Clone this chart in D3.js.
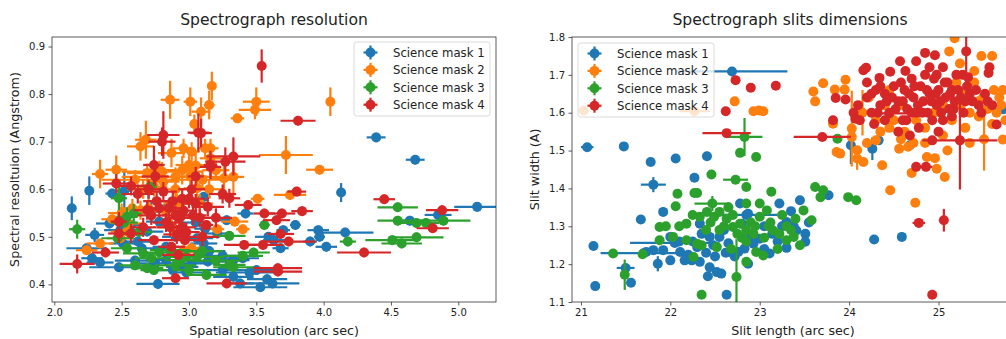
<!DOCTYPE html>
<html>
<head>
<meta charset="utf-8">
<script src="https://cdn.jsdelivr.net/npm/d3@7"></script>
<style>
  body { margin: 0; background: #fff; }
  svg text { font-family: "DejaVu Sans", sans-serif; fill: #222; }
</style>
</head>
<body>
<div id="chart"></div>
<script>
// Series names and colours
const maskNames = ['Science mask 1', 'Science mask 2', 'Science mask 3', 'Science mask 4'];
const maskColors = ['#1f77b4', '#ff7f0e', '#2ca02c', '#d62728'];

// Left panel: [spatial res, spectral res, x error, y error]
const mask1Res = [
  [2.13,0.560,0.02,0.025],[2.26,0.597,0.03,0.03],[2.30,0.504,0.07,0.015],[2.24,0.476,0.15,0.01],
  [2.28,0.455,0.08,0.01],[2.34,0.446,0.10,0.01],[2.43,0.591,0.05,0.01],[2.52,0.597,0.06,0.04],
  [2.48,0.436,0.22,0.01],[2.41,0.528,0.10,0.01],[2.49,0.514,0.12,0.01],[2.51,0.486,0.10,0.01],
  [2.57,0.525,0.10,0.01],[2.65,0.476,0.15,0.01],[2.69,0.511,0.12,0.01],[2.72,0.553,0.08,0.02],
  [2.77,0.401,0.16,0.01],[2.75,0.444,0.12,0.01],[2.78,0.532,0.10,0.01],[2.83,0.479,0.10,0.01],
  [2.83,0.451,0.15,0.01],[2.87,0.567,0.06,0.01],[2.88,0.430,0.15,0.01],[2.90,0.500,0.10,0.01],
  [2.95,0.437,0.12,0.01],[3.02,0.444,0.15,0.01],[3.06,0.497,0.12,0.01],[3.08,0.469,0.10,0.01],
  [3.11,0.584,0.05,0.01],[3.11,0.486,0.10,0.01],[3.12,0.517,0.08,0.01],[3.14,0.448,0.15,0.01],
  [3.21,0.507,0.10,0.01],[3.28,0.535,0.08,0.01],[3.33,0.451,0.12,0.01],[3.33,0.416,0.15,0.01],
  [3.38,0.402,0.10,0.01],[3.40,0.455,0.12,0.01],[3.42,0.549,0.06,0.01],[3.50,0.430,0.15,0.01],
  [3.53,0.394,0.20,0.01],[3.58,0.411,0.15,0.01],[3.59,0.500,0.10,0.01],[3.63,0.493,0.08,0.01],
  [3.68,0.476,0.06,0.01],[3.70,0.514,0.05,0.01],[3.79,0.525,0.04,0.01],[3.90,0.490,0.05,0.01],
  [3.96,0.514,0.08,0.01],[3.97,0.500,0.04,0.01],[4.02,0.479,0.08,0.01],[4.16,0.509,0.21,0.01],
  [4.13,0.593,0.02,0.02],[4.39,0.709,0.07,0.01],[4.68,0.662,0.07,0.01],[4.64,0.534,0.10,0.01],
  [4.85,0.546,0.10,0.01],[5.14,0.563,0.17,0.01],[2.98,0.425,0.12,0.01],[3.25,0.430,0.15,0.01],
  [3.45,0.425,0.25,0.01],[3.62,0.402,0.20,0.01],[2.60,0.450,0.15,0.01],[3.05,0.530,0.10,0.01],
  [3.15,0.470,0.12,0.01],[2.70,0.600,0.08,0.02],[2.62,0.490,0.12,0.01],[3.25,0.460,0.15,0.01]
];
const mask2Res = [
  [2.24,0.472,0.08,0.01],[2.34,0.486,0.10,0.01],[2.34,0.632,0.06,0.03],[2.46,0.641,0.08,0.03],
  [2.43,0.537,0.08,0.01],[2.49,0.497,0.10,0.01],[2.54,0.511,0.12,0.01],[2.55,0.528,0.10,0.01],
  [2.64,0.556,0.12,0.02],[2.64,0.690,0.10,0.03],[2.68,0.704,0.08,0.04],[2.69,0.634,0.15,0.02],
  [2.74,0.605,0.10,0.02],[2.81,0.616,0.12,0.02],[2.83,0.553,0.10,0.02],[2.86,0.788,0.07,0.04],
  [2.87,0.676,0.10,0.03],[2.91,0.570,0.10,0.02],[2.96,0.686,0.08,0.02],[2.96,0.472,0.10,0.01],
  [3.00,0.651,0.10,0.03],[3.01,0.784,0.05,0.03],[3.01,0.627,0.12,0.02],[3.02,0.679,0.06,0.02],
  [3.02,0.476,0.08,0.01],[3.04,0.737,0.03,0.02],[3.06,0.602,0.10,0.02],[3.08,0.570,0.10,0.02],
  [3.09,0.763,0.07,0.03],[3.12,0.686,0.06,0.02],[3.15,0.777,0.04,0.03],[3.16,0.686,0.06,0.02],
  [3.16,0.665,0.08,0.02],[3.17,0.817,0.03,0.03],[3.21,0.516,0.05,0.01],[3.26,0.623,0.10,0.03],
  [3.33,0.626,0.08,0.04],[3.34,0.532,0.10,0.01],[3.36,0.749,0.05,0.01],[3.40,0.516,0.05,0.01],
  [3.49,0.767,0.12,0.02],[3.50,0.784,0.10,0.03],[3.51,0.580,0.05,0.01],[3.72,0.672,0.20,0.04],
  [3.75,0.588,0.12,0.01],[3.97,0.641,0.10,0.01],[4.05,0.784,0.02,0.03],[2.70,0.560,0.15,0.02],
  [2.60,0.620,0.25,0.02],[2.90,0.600,0.20,0.02],[3.10,0.620,0.25,0.02],[2.95,0.640,0.10,0.03],
  [3.05,0.650,0.12,0.03],[2.78,0.640,0.12,0.02],[2.80,0.637,0.30,0.02],[2.90,0.626,0.40,0.02],
  [2.58,0.560,0.10,0.02],[2.66,0.600,0.12,0.02],[3.15,0.600,0.10,0.02],[3.20,0.640,0.10,0.02],
  [2.50,0.550,0.10,0.02],[2.87,0.520,0.10,0.02]
];
const mask3Res = [
  [2.17,0.516,0.06,0.02],[2.48,0.581,0.06,0.025],[2.54,0.542,0.08,0.02],[2.59,0.549,0.06,0.02],
  [2.71,0.605,0.05,0.01],[2.54,0.476,0.12,0.01],[2.47,0.497,0.12,0.01],[2.69,0.434,0.12,0.01],
  [2.74,0.430,0.10,0.01],[2.78,0.467,0.15,0.01],[2.86,0.472,0.15,0.01],[2.94,0.451,0.12,0.01],
  [2.98,0.458,0.15,0.01],[3.06,0.458,0.20,0.01],[3.13,0.420,0.15,0.01],[3.30,0.502,0.12,0.01],
  [3.30,0.441,0.12,0.01],[3.33,0.436,0.15,0.01],[3.48,0.467,0.12,0.01],[3.56,0.525,0.04,0.01],
  [4.18,0.490,0.06,0.01],[4.55,0.562,0.15,0.01],[4.55,0.534,0.15,0.01],[4.51,0.493,0.20,0.01],
  [4.58,0.486,0.15,0.01],[4.69,0.499,0.20,0.01],[4.69,0.529,0.15,0.01],[4.76,0.529,0.10,0.01],
  [4.89,0.534,0.20,0.01],[2.90,0.440,0.15,0.01],[3.20,0.450,0.18,0.01],[3.00,0.430,0.12,0.01],
  [2.63,0.510,0.10,0.01],[2.72,0.455,0.12,0.01],[2.52,0.530,0.10,0.01],[2.60,0.440,0.12,0.01],
  [3.10,0.470,0.15,0.01],[3.40,0.460,0.15,0.01],[2.66,0.465,0.15,0.01]
];
const mask4Res = [
  [2.17,0.443,0.13,0.02],[2.38,0.467,0.10,0.01],[2.46,0.612,0.10,0.02],[2.48,0.532,0.06,0.02],
  [2.48,0.507,0.08,0.02],[2.57,0.507,0.10,0.02],[2.57,0.607,0.12,0.02],[2.69,0.556,0.10,0.02],
  [2.74,0.493,0.12,0.01],[2.74,0.651,0.08,0.04],[2.75,0.627,0.10,0.02],[2.80,0.700,0.10,0.03],
  [2.81,0.714,0.12,0.05],[2.81,0.595,0.10,0.02],[2.87,0.479,0.10,0.01],[2.90,0.413,0.10,0.01],
  [2.97,0.493,0.12,0.01],[3.05,0.627,0.06,0.02],[3.07,0.719,0.08,0.04],[3.09,0.718,0.08,0.03],
  [3.13,0.525,0.05,0.01],[3.14,0.563,0.12,0.02],[3.16,0.651,0.05,0.03],[3.27,0.658,0.15,0.03],
  [3.28,0.402,0.15,0.01],[3.30,0.581,0.08,0.02],[3.33,0.669,0.20,0.04],[3.41,0.483,0.15,0.01],
  [3.44,0.567,0.10,0.01],[3.54,0.859,0.02,0.035],[3.55,0.483,0.15,0.01],[3.56,0.549,0.08,0.01],
  [3.65,0.535,0.10,0.01],[3.66,0.434,0.18,0.01],[3.66,0.427,0.18,0.01],[3.68,0.506,0.10,0.01],
  [3.69,0.549,0.10,0.01],[3.74,0.490,0.20,0.01],[3.80,0.595,0.07,0.01],[3.81,0.744,0.13,0.01],
  [3.84,0.554,0.08,0.01],[4.30,0.467,0.20,0.01],[4.45,0.579,0.08,0.01],[4.81,0.518,0.12,0.01],
  [4.88,0.556,0.12,0.01],[2.72,0.545,0.10,0.02],[2.78,0.560,0.12,0.02],[2.83,0.530,0.10,0.02],
  [2.86,0.520,0.10,0.02],[2.91,0.505,0.10,0.02],[2.93,0.540,0.10,0.02],[2.96,0.555,0.10,0.02],
  [3.00,0.580,0.12,0.02],[2.98,0.510,0.10,0.02],[3.03,0.545,0.10,0.02],[2.88,0.575,0.10,0.02],
  [2.95,0.580,0.10,0.02],[2.76,0.575,0.10,0.02],[3.02,0.600,0.10,0.02],[3.08,0.540,0.12,0.02],
  [2.62,0.590,0.12,0.02],[2.66,0.520,0.10,0.02],[2.85,0.560,0.10,0.02],[2.90,0.545,0.10,0.02],
  [3.05,0.570,0.10,0.02],[3.10,0.500,0.12,0.02],[2.70,0.600,0.10,0.02],[2.95,0.520,0.10,0.02],
  [3.20,0.540,0.12,0.02],[3.25,0.590,0.10,0.02],[2.92,0.462,0.12,0.01],[3.16,0.647,0.08,0.02]
];

// Right panel: [slit length, slit width, x error, y error]
const mask1Slit = [
  [21.07,1.509,0.07,0],[21.48,1.511,0,0],[21.14,1.248,0,0],[21.16,1.142,0,0],[21.50,1.190,0.10,0.01],
  [21.56,1.151,0,0],[21.67,1.318,0,0],[21.78,1.470,0,0],[21.81,1.410,0.14,0.02],[21.86,1.201,0,0.02],
  [21.92,1.338,0,0],[22.06,1.479,0,0],[22.27,1.428,0,0],[22.41,1.485,0,0],[22.69,1.709,0.62,0],
  [22.63,1.119,0,0],[22.42,1.168,0,0],[23.77,1.382,0,0],[24.28,1.265,0,0],[24.59,1.272,0,0],
  [24.02,1.514,0,0.05],[24.26,1.505,0,0.03],[24.33,1.527,0,0],[24.68,1.514,0,0],[25.72,1.609,0.15,0],
  [21.70,1.229,0.48,0],[22.05,1.256,0.50,0],[22.85,1.330,0.35,0],
  [22.11,1.232,0,0],[22.16,1.210,0,0],[22.24,1.210,0,0],[22.33,1.206,0,0],[22.44,1.192,0,0],
  [22.52,1.179,0,0],[22.57,1.175,0,0],[22.70,1.229,0,0],[22.76,1.232,0,0],[22.83,1.241,0,0],
  [22.87,1.201,0,0],[22.93,1.254,0,0],[23.00,1.267,0,0],[23.11,1.228,0,0],[23.14,1.280,0,0],
  [23.22,1.360,0,0],[23.30,1.311,0,0],[23.41,1.289,0,0],[23.45,1.369,0,0],[23.51,1.280,0,0],
  [23.51,1.259,0,0],[23.30,1.243,0,0],[22.78,1.360,0,0],[22.87,1.333,0,0],[22.80,1.307,0,0],
  [22.33,1.307,0,0],[22.44,1.272,0,0],[22.55,1.272,0,0],[22.00,1.272,0,0],[21.92,1.237,0,0],
  [21.81,1.237,0,0],[21.73,1.232,0,0],[22.00,1.210,0,0],[22.20,1.225,0,0],[22.30,1.245,0,0],
  [22.65,1.255,0,0],[22.72,1.220,0,0],[22.90,1.270,0,0],[23.05,1.300,0,0],[23.38,1.300,0,0],
  [23.55,1.310,0,0],[22.60,1.290,0,0],[22.48,1.250,0,0],[23.20,1.260,0,0],[22.35,1.280,0,0],
  [22.50,1.220,0,0],[22.62,1.230,0,0],[22.40,1.230,0,0],[22.25,1.260,0,0],[23.05,1.240,0,0],
  [23.25,1.300,0,0],[23.35,1.340,0,0],[22.10,1.260,0,0]
];
const mask2Slit = [
  [21.03,1.606,0,0],[22.27,1.604,0.17,0],[22.72,1.630,0,0],[22.93,1.604,0,0],[22.99,1.606,0,0],
  [23.04,1.604,0,0],[23.60,1.656,0,0],[23.62,1.630,0,0],[23.71,1.678,0,0],[23.84,1.661,0,0],
  [23.95,1.661,0,0],[23.96,1.687,0,0],[23.82,1.571,0,0],[23.86,1.496,0,0],[23.90,1.492,0,0],
  [24.03,1.558,0,0.10],[24.03,1.536,0,0],[24.09,1.501,0,0],[24.09,1.479,0,0.03],[24.16,1.470,0,0],
  [24.30,1.527,0,0],[24.37,1.461,0,0],[24.46,1.395,0,0],[24.56,1.505,0,0],[24.70,1.441,0,0],
  [24.74,1.362,0,0],[24.87,1.483,0,0],[24.96,1.480,0,0],[24.98,1.452,0,0],[25.07,1.430,0,0],
  [25.18,1.797,0,0],[25.12,1.762,0,0],[25.48,1.750,0,0],[25.60,1.750,0,0],[25.72,1.529,0,0],
  [25.24,1.730,0,0],[25.51,1.530,0,0.083],[24.15,1.600,0,0.06],[24.40,1.620,0,0],[24.50,1.580,0,0],
  [24.62,1.550,0,0],[24.75,1.580,0,0],[24.85,1.560,0,0],[24.95,1.600,0,0],[25.05,1.540,0,0],
  [25.15,1.580,0,0],[25.25,1.620,0,0],[25.35,1.600,0,0],[25.45,1.630,0,0],[25.55,1.610,0,0],
  [25.62,1.660,0,0],[25.68,1.640,0,0],[25.40,1.680,0,0],[25.30,1.660,0,0],[24.22,1.640,0,0],
  [24.30,1.580,0,0],[24.58,1.530,0,0],[24.66,1.510,0,0],[25.10,1.500,0,0],[25.35,1.520,0,0],
  [25.60,1.570,0,0],[24.45,1.560,0,0],[25.20,1.680,0,0],[25.65,1.600,0,0],[25.70,1.620,0,0],
  [25.75,1.580,0,0],[25.72,1.660,0,0],[25.45,1.590,0,0],[25.50,1.640,0,0],[25.05,1.620,0,0],
  [24.60,1.620,0,0],[24.35,1.550,0,0],[24.20,1.520,0,0],[24.72,1.520,0,0],[24.85,1.520,0,0],
  [25.30,1.560,0,0],[25.40,1.710,0,0],[24.45,1.660,0,0]
];
const mask3Slit = [
  [21.36,1.228,0,0],[21.49,1.172,0,0.04],[21.69,1.226,0,0],[21.88,1.298,0,0],[22.08,1.386,0,0],
  [22.06,1.353,0,0],[22.27,1.388,0,0],[22.30,1.388,0,0],[22.46,1.437,0,0],[22.35,1.119,0,0],
  [22.74,1.166,0,0.10],[22.73,1.423,0.14,0],[22.83,1.536,0.20,0.05],[22.78,1.494,0,0],[22.85,1.404,0,0],
  [22.96,1.483,0,0],[22.85,1.360,0,0],[23.13,1.391,0,0],[23.62,1.404,0,0],[23.71,1.395,0,0],
  [23.68,1.377,0,0],[23.99,1.377,0,0],[24.08,1.369,0,0],[23.87,1.531,0,0],[23.45,1.250,0,0],
  [23.58,1.316,0,0],[23.49,1.342,0,0],[22.47,1.360,0.20,0.02],
  [22.18,1.307,0,0],[22.33,1.325,0,0],[22.41,1.338,0,0],[22.49,1.325,0,0],[22.55,1.338,0,0],
  [22.63,1.320,0,0],[22.70,1.298,0,0],[22.78,1.307,0,0],[22.85,1.289,0,0],[22.93,1.280,0,0],
  [23.00,1.325,0,0],[23.08,1.342,0,0],[23.15,1.289,0,0],[23.22,1.280,0,0],[23.30,1.263,0,0],
  [23.38,1.272,0,0],[22.96,1.232,0,0],[23.04,1.223,0,0],[22.52,1.245,0,0],[22.30,1.254,0,0],
  [22.18,1.263,0,0],[22.03,1.272,0,0],[21.88,1.263,0,0],[22.26,1.219,0,0],[22.85,1.206,0,0],
  [22.60,1.300,0,0],[22.75,1.280,0,0],[22.90,1.310,0,0],[23.10,1.300,0,0],[23.25,1.330,0,0],
  [23.35,1.290,0,0],[22.40,1.290,0,0],[22.10,1.300,0,0],[21.95,1.300,0,0],[22.65,1.350,0,0],
  [23.00,1.360,0,0],[22.68,1.240,0,0],[23.20,1.240,0,0],[22.55,1.290,0,0],[22.70,1.330,0,0],
  [22.80,1.270,0,0],[22.95,1.300,0,0],[23.05,1.270,0,0],[23.12,1.310,0,0],[22.45,1.310,0,0],
  [22.25,1.330,0,0],[23.30,1.300,0,0],[22.35,1.250,0,0],[22.85,1.260,0,0],[23.40,1.320,0,0]
];
const mask4Slit = [
  [22.73,1.686,0,0],[22.90,1.666,0,0],[23.18,1.671,0,0],[22.62,1.604,0,0],[22.63,1.546,0.27,0],
  [23.70,1.536,0.32,0],[23.82,1.580,0,0],[23.85,1.639,0,0],[23.96,1.635,0,0],[24.07,1.584,0,0],
  [24.16,1.712,0,0],[24.19,1.719,0,0],[24.34,1.692,0,0],[24.46,1.708,0,0],[24.57,1.736,0,0],
  [24.75,1.736,0,0],[24.85,1.758,0,0],[24.96,1.752,0,0],[25.31,1.762,0,0.10],[24.75,1.457,0,0],
  [24.86,1.457,0.07,0],[24.78,1.309,0.07,0],[25.06,1.316,0,0.03],[24.93,1.119,0,0],[25.24,1.527,0.42,0.13],
  [24.93,1.527,0,0],[25.65,1.569,0,0],[25.56,1.705,0,0],[25.57,1.720,0,0],[25.33,1.694,0,0],
  [24.45,1.598,0.25,0],
  [24.10,1.620,0,0],[24.20,1.640,0,0],[24.25,1.600,0,0],[24.30,1.660,0,0],[24.35,1.620,0,0],
  [24.40,1.650,0,0],[24.45,1.600,0,0],[24.50,1.670,0,0],[24.55,1.630,0,0],[24.60,1.580,0,0],
  [24.62,1.660,0,0],[24.65,1.610,0,0],[24.70,1.690,0,0],[24.72,1.640,0,0],[24.75,1.600,0,0],
  [24.78,1.560,0,0],[24.80,1.670,0,0],[24.83,1.630,0,0],[24.85,1.700,0,0],[24.88,1.600,0,0],
  [24.90,1.650,0,0],[24.93,1.580,0,0],[24.95,1.690,0,0],[24.98,1.620,0,0],[25.00,1.660,0,0],
  [25.03,1.600,0,0],[25.05,1.720,0,0],[25.08,1.640,0,0],[25.10,1.680,0,0],[25.12,1.610,0,0],
  [25.15,1.660,0,0],[25.18,1.630,0,0],[25.20,1.700,0,0],[25.25,1.640,0,0],[25.28,1.600,0,0],
  [25.32,1.670,0,0],[25.38,1.630,0,0],[25.45,1.620,0,0],[25.52,1.650,0,0],[24.55,1.550,0,0],
  [24.68,1.540,0,0],[25.00,1.550,0,0],[24.40,1.580,0,0],[24.20,1.680,0,0],[24.28,1.570,0,0],
  [25.15,1.590,0,0],[24.63,1.710,0,0],[24.90,1.720,0,0],[24.35,1.670,0,0],[24.42,1.630,0,0],
  [24.48,1.640,0,0],[24.52,1.610,0,0],[24.58,1.680,0,0],[24.60,1.630,0,0],[24.67,1.650,0,0],
  [24.70,1.600,0,0],[24.73,1.670,0,0],[24.77,1.620,0,0],[24.82,1.600,0,0],[24.87,1.660,0,0],
  [24.92,1.630,0,0],[24.97,1.650,0,0],[25.02,1.630,0,0],[25.07,1.680,0,0],[25.13,1.650,0,0],
  [25.17,1.610,0,0],[25.22,1.660,0,0],[25.30,1.630,0,0],[25.35,1.650,0,0],[25.42,1.660,0,0],
  [25.48,1.600,0,0],[25.55,1.630,0,0],[25.60,1.620,0,0],[24.05,1.600,0,0],[24.12,1.580,0,0],
  [24.25,1.650,0,0],[24.32,1.600,0,0],[24.64,1.580,0,0],[25.05,1.580,0,0],[25.27,1.700,0,0],
  [24.98,1.700,0,0]
];

// Tick values
const resXTicks = [2.0, 2.5, 3.0, 3.5, 4.0, 4.5, 5.0];
const resYTicks = [0.4, 0.5, 0.6, 0.7, 0.8, 0.9];
const slitXTicks = [21, 22, 23, 24, 25];
const slitYTicks = [1.1, 1.2, 1.3, 1.4, 1.5, 1.6, 1.7, 1.8];

const W = 1006, H = 339;
const svg = d3.select('#chart').append('svg')
  .attr('width', W).attr('height', H);

function drawPanel(opts) {
  const { id, left, right, top, bottom, xDomain, yDomain, xTicks, yTicks, xFmt, yFmt,
          series, title, xLabel, yLabel, legendX, legendY } = opts;

  const x = d3.scaleLinear().domain(xDomain).range([left, right]);
  const y = d3.scaleLinear().domain(yDomain).range([bottom, top]);

  svg.append('clipPath').attr('id', id)
    .append('rect').attr('x', left).attr('y', top)
    .attr('width', right - left).attr('height', bottom - top);

  const plot = svg.append('g').attr('clip-path', `url(#${id})`);

  series.forEach((data, i) => {
    const c = maskColors[i];
    const g = plot.append('g');
    // error bars
    g.selectAll('line.xe').data(data.filter(d => d[2] > 0)).join('line')
      .attr('x1', d => x(d[0] - d[2])).attr('x2', d => x(d[0] + d[2]))
      .attr('y1', d => y(d[1])).attr('y2', d => y(d[1]))
      .attr('stroke', c).attr('stroke-width', 2.2);
    g.selectAll('line.ye').data(data.filter(d => d[3] > 0)).join('line')
      .attr('x1', d => x(d[0])).attr('x2', d => x(d[0]))
      .attr('y1', d => y(d[1] - d[3])).attr('y2', d => y(d[1] + d[3]))
      .attr('stroke', c).attr('stroke-width', 2.2);
    // markers
    g.selectAll('circle').data(data).join('circle')
      .attr('cx', d => x(d[0])).attr('cy', d => y(d[1]))
      .attr('r', 5).attr('fill', c);
  });

  // Axes
  svg.append('g')
    .attr('transform', `translate(0,${bottom})`)
    .call(d3.axisBottom(x).tickValues(xTicks).tickFormat(xFmt).tickSize(3.5).tickPadding(3.5))
    .call(g => g.select('.domain').remove());
  svg.append('g')
    .attr('transform', `translate(${left},0)`)
    .call(d3.axisLeft(y).tickValues(yTicks).tickFormat(yFmt).tickSize(3.5).tickPadding(3.5))
    .call(g => g.select('.domain').remove());
  svg.selectAll('.tick text').attr('font-size', 10).attr('font-family', 'DejaVu Sans');
  svg.selectAll('.tick line').attr('stroke', '#333').attr('stroke-width', 0.8);

  svg.append('rect')
    .attr('x', left).attr('y', top)
    .attr('width', right - left).attr('height', bottom - top)
    .attr('fill', 'none').attr('stroke', '#333').attr('stroke-width', 0.8);

  svg.append('text').attr('x', opts.titleX || (left + right) / 2).attr('y', 25)
    .attr('text-anchor', 'middle').attr('font-size', 15.6).text(title);
  svg.append('text').attr('x', opts.xLabelX || (left + right) / 2).attr('y', 335)
    .attr('text-anchor', 'middle').attr('font-size', 12.7).text(xLabel);
  svg.append('text')
    .attr('transform', `translate(${opts.yLabelX},${(top + bottom) / 2}) rotate(-90)`)
    .attr('text-anchor', 'middle').attr('font-size', 12.7).text(yLabel);

  // Legend
  const lg = svg.append('g').attr('transform', `translate(${legendX},${legendY})`);
  lg.append('rect').attr('width', 136).attr('height', 74).attr('rx', 2.5)
    .attr('fill', '#fff').attr('fill-opacity', 0.8)
    .attr('stroke', '#d0d0d0').attr('stroke-width', 0.8);
  maskNames.forEach((name, i) => {
    const yy = 10.5 + i * 17.4;
    const c = maskColors[i];
    lg.append('line').attr('x1', 9.5).attr('x2', 23.5).attr('y1', yy).attr('y2', yy)
      .attr('stroke', c).attr('stroke-width', 2.2);
    lg.append('line').attr('x1', 16.5).attr('x2', 16.5).attr('y1', yy - 7).attr('y2', yy + 7)
      .attr('stroke', c).attr('stroke-width', 2.2);
    lg.append('circle').attr('cx', 16.5).attr('cy', yy).attr('r', 5).attr('fill', c);
    lg.append('text').attr('x', 39).attr('y', yy + 4.3).attr('font-size', 11.7).text(name);
  });
}

drawPanel({
  id: 'clipRes', left: 52, right: 496, top: 37, bottom: 302,
  xDomain: [1.983, 5.28], yDomain: [0.363, 0.920],
  xTicks: resXTicks, yTicks: resYTicks, xFmt: d3.format('.1f'), yFmt: d3.format('.1f'),
  series: [mask1Res, mask2Res, mask3Res, mask4Res],
  title: 'Spectrograph resolution',
  xLabel: 'Spatial resolution (arc sec)',
  yLabel: 'Spectral resoltuion (Angstrom)', yLabelX: 19,
  legendX: 354, legendY: 42
});

drawPanel({
  id: 'clipSlit', left: 572, right: 1010, top: 37, bottom: 302,
  xDomain: [20.9, 25.8], yDomain: [1.1, 1.8],
  xTicks: slitXTicks, yTicks: slitYTicks, xFmt: d3.format('d'), yFmt: d3.format('.1f'),
  series: [mask1Slit, mask2Slit, mask3Slit, mask4Slit],
  title: 'Spectrograph slits dimensions', titleX: 790, xLabelX: 793,
  xLabel: 'Slit length (arc sec)',
  yLabel: 'Slit width (A)', yLabelX: 539,
  legendX: 578, legendY: 43
});
</script>
</body>
</html>
